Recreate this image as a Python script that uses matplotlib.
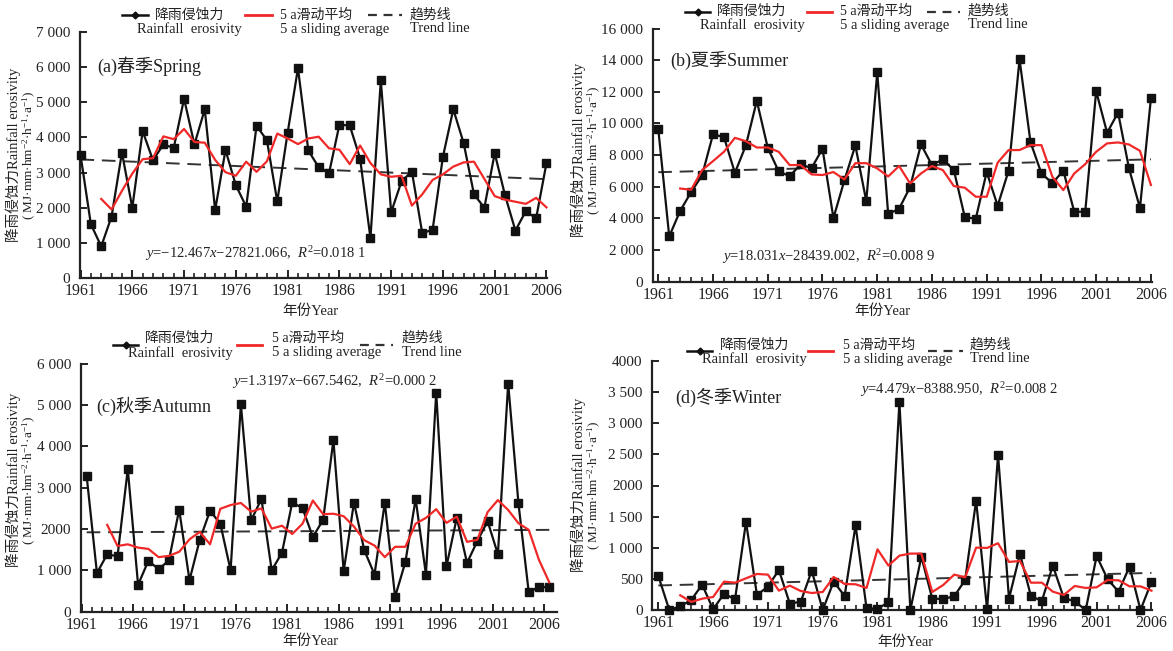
import matplotlib
matplotlib.use('Agg')
import matplotlib.pyplot as plt
from matplotlib.lines import Line2D
from matplotlib.ticker import FixedLocator

plt.rcParams['mathtext.fontset'] = 'custom'
plt.rcParams['mathtext.rm'] = 'Liberation Serif'
plt.rcParams['mathtext.it'] = 'Liberation Serif:italic'

SERIF = ['Liberation Serif', 'Noto Sans CJK SC']

years = list(range(1961, 2007))
ma_years = list(range(1963, 2007))

spring = [3500, 1530, 900, 1750, 3570, 2000, 4180, 3350, 3800, 3700,
          5100, 3800, 4800, 1930, 3640, 2640, 2030, 4330, 3920, 2180,
          4130, 5970, 3630, 3150, 2980, 4360, 4340, 3400, 1130, 5620,
          1870, 2750, 3030, 1280, 1370, 3450, 4800, 3840, 2380, 2000,
          3550, 2350, 1350, 1900, 1700, 3270]
spring_ma = [2250, 1950, 2480, 2970, 3380, 3410, 4030, 3950, 4240, 3870,
             3850, 3360, 3010, 2910, 3310, 3020, 3320, 4110, 3970, 3810,
             3970, 4020, 3690, 3650, 3240, 3770, 3270, 2950, 2880, 2910,
             2060, 2380, 2790, 2950, 3170, 3290, 3310, 2820, 2330, 2230,
             2170, 2110, 2280, 2010]

summer = [9640, 2860, 4480, 5660, 6720, 9310, 9140, 6880, 8610, 11430,
          8460, 6970, 6670, 7410, 7180, 8400, 4020, 6400, 8610, 5090,
          13220, 4270, 4610, 5980, 8670, 7370, 7730, 7050, 4080, 3980,
          6930, 4800, 7010, 14060, 8820, 6840, 6230, 7010, 4420, 4420,
          12040, 9410, 10690, 7160, 4650, 11580]
summer_ma = [5890, 5810, 7050, 7620, 8210, 9090, 8880, 8480, 8480, 8210,
             7370, 7370, 6780, 6740, 6930, 6460, 7490, 7490, 7160, 6650,
             7310, 6210, 6840, 7310, 7050, 6040, 5940, 5370, 5370, 7520,
             8320, 8320, 8630, 8630, 6630, 5790, 6840, 7430, 8210, 8740,
             8800, 8670, 8270, 6110]

autumn = [3280, 935, 1390, 1340, 3450, 650, 1230, 1030, 1240, 2470,
          760, 1740, 2440, 2130, 1000, 5020, 2210, 2730, 1000, 1430,
          2650, 2500, 1810, 2220, 4150, 980, 2640, 1490, 900, 2640,
          360, 1200, 2730, 900, 5300, 1100, 2270, 1180, 1710, 2190,
          1390, 5520, 2620, 470, 600, 590]
autumn_ma = [2100, 1590, 1630, 1550, 1520, 1320, 1350, 1450, 1750, 1930,
             1630, 2490, 2580, 2630, 2420, 2500, 2010, 2080, 1880, 2130,
             2690, 2360, 2370, 2310, 2060, 1730, 1600, 1320, 1570, 1570,
             2130, 2270, 2480, 2150, 2300, 1690, 1740, 2410, 2700, 2460,
             2140, 1980, 1250, 710]

winter = [547, 0, 59, 161, 407, 11, 263, 171, 1415, 241,
          375, 643, 102, 134, 632, 0, 456, 225, 1361, 27,
          21, 123, 3339, 0, 857, 182, 177, 220, 482, 1758,
          11, 2492, 182, 900, 225, 145, 713, 193, 139, 0,
          868, 493, 295, 697, 0, 450]
winter_ma = [236, 129, 182, 209, 456, 439, 509, 579, 568, 311,
             391, 305, 273, 289, 530, 418, 413, 354, 975, 713,
             873, 906, 906, 289, 402, 568, 525, 1002, 997, 1072,
             772, 788, 439, 439, 295, 241, 386, 354, 364, 482,
             477, 380, 380, 311]

trend_slope = [-12.467, 18.031, 1.3197, 4.479]
trend_intercept = [27821.066, -28439.002, -667.5462, -8388.950]

panel_titles = ['(a)春季Spring', '(b)夏季Summer', '(c)秋季Autumn', '(d)冬季Winter']
equations = [r'$y$=−12.467$x$−27821.066,  $R^2$=0.018 1',
             r'$y$=18.031$x$−28439.002,  $R^2$=0.008 9',
             r'$y$=1.3197$x$−667.5462,  $R^2$=0.000 2',
             r'$y$=4.479$x$−8388.950,  $R^2$=0.008 2']
ytick_vals = [[0, 1000, 2000, 3000, 4000, 5000, 6000, 7000],
              [0, 2000, 4000, 6000, 8000, 10000, 12000, 14000, 16000],
              [0, 1000, 2000, 3000, 4000, 5000, 6000],
              [0, 500, 1000, 1500, 2000, 2500, 3000, 3500, 4000]]
ytick_labels = [['0', '1 000', '2 000', '3 000', '4 000', '5 000', '6 000', '7 000'],
                ['0', '2 000', '4 000', '6 000', '8 000', '10 000', '12 000', '14 000', '16 000'],
                ['0', '1 000', '2000', '3 000', '4 000', '5 000', '6 000'],
                ['0', '500', '1 000', '1 500', '2000', '2 500', '3 000', '3 500', '4000']]
xtick_years = [1961, 1966, 1971, 1976, 1981, 1986, 1991, 1996, 2001, 2006]
xtick_labels = [str(y) for y in xtick_years]

legend_cn = ['降雨侵蚀力', '5 a滑动平均', '趋势线']
legend_en = ['Rainfall  erosivity', '5 a sliding average', 'Trend line']
xlabel = '年份Year'
ylabel1 = '降雨侵蚀力Rainfall erosivity'
ylabel2 = r'( MJ·mm·hm$^{-2}$·h$^{-1}$·a$^{-1}$)'

series = [spring, summer, autumn, winter]
mas = [spring_ma, summer_ma, autumn_ma, winter_ma]

W, H = 1173, 651
fig = plt.figure(figsize=(W / 100, H / 100), dpi=100)


def fx(x):
    return x / W


def fy(y):
    return 1 - y / H


TXT = '#222222'
RED = '#f02828'
BLK = '#111111'

layout = [
    dict(box=(80, 547, 32, 278), xlim=(1960.95, 2006.05), toff=0.0,
         title=(97, 66), eq=(145, 254), xl=(310, 311), yl=(13, 29, 155),
         leg_y=(15, 15, 29), leg=[(122, 148, 155, 137), (245, 272, 280, 280), (368, 402, 410, 410)]),
    dict(box=(652.7, 1152, 28.5, 281.7), xlim=(1960.49, 2006.1), toff=0.0,
         title=(670, 60), eq=(722, 257), xl=(882, 311), yl=(578, 594, 150),
         leg_y=(12, 11, 25), leg=[(685, 710, 717, 700), (807, 832, 840, 840), (927, 960, 968, 968)]),
    dict(box=(80.7, 556.7, 363.7, 611.7), xlim=(1960.42, 2006.72), toff=-0.5,
         title=(96, 406), eq=(232, 382), xl=(310, 641), yl=(13, 29, 480),
         leg_y=(345, 338, 353), leg=[(113, 138, 145, 128), (237, 262, 272, 272), (360, 393, 402, 402)]),
    dict(box=(652.3, 1152, 361, 610), xlim=(1960.45, 2006.05), toff=0.0,
         title=(675, 397), eq=(860, 390), xl=(905, 642), yl=(578, 594, 485),
         leg_y=(351, 345, 359), leg=[(687, 712, 720, 702), (808, 833, 843, 843), (928, 963, 970, 970)]),
]

for i in range(4):
    L = layout[i]
    l, r, t, b = L['box']
    ax = fig.add_axes([fx(l), fy(b), (r - l) / W, (b - t) / H])
    ax.set_xlim(*L['xlim'])
    ax.set_ylim(0, ytick_vals[i][-1])
    ax.patch.set_alpha(0)

    ax.plot(years, series[i], color=BLK, lw=1.6, marker='s', ms=5.2,
            markerfacecolor=BLK, markeredgecolor=BLK, zorder=3, clip_on=False)
    ax.plot(ma_years, mas[i], color=RED, lw=1.6, zorder=4, clip_on=False)
    tx = [years[0], years[-1]]
    ty = [trend_slope[i] * x + trend_intercept[i] for x in tx]
    ax.plot(tx, ty, color='#333333', lw=1.4, dashes=(7, 4), zorder=2)

    for s in ['top', 'right']:
        ax.spines[s].set_visible(False)
    for s in ['left', 'bottom']:
        ax.spines[s].set_linewidth(1.6)
        ax.spines[s].set_color(TXT)

    off = L['toff']
    ax.xaxis.set_major_locator(FixedLocator([y + off for y in xtick_years]))
    ax.xaxis.set_minor_locator(FixedLocator([y + off for y in years]))
    ax.set_xticklabels(xtick_labels)
    ax.set_yticks(ytick_vals[i])
    ax.set_yticklabels(ytick_labels[i])
    ax.tick_params(axis='x', which='major', direction='in', length=6, width=1.4,
                   color=TXT, pad=3.5, labelsize=11.5, labelcolor=TXT)
    ax.tick_params(axis='x', which='minor', direction='in', length=3.5, width=1.2, color=TXT)
    ax.tick_params(axis='y', which='major', direction='in', length=5, width=1.4,
                   color=TXT, pad=7, labelsize=11, labelcolor=TXT)
    for lab in ax.get_xticklabels() + ax.get_yticklabels():
        lab.set_family('Liberation Serif')

    fig.text(fx(L['title'][0]), fy(L['title'][1]), panel_titles[i], ha='left', va='center',
             fontsize=13, family=SERIF, color=TXT)
    fig.text(fx(L['eq'][0]), fy(L['eq'][1]), equations[i], ha='left', va='center',
             fontsize=10.5, family='Liberation Serif', color=TXT)
    fig.text(fx(L['xl'][0]), fy(L['xl'][1]), xlabel, ha='center', va='center',
             fontsize=10.5, family=SERIF, color=TXT)
    yx1, yx2, ycen = L['yl']
    fig.text(fx(yx1), fy(ycen), ylabel1, ha='center', va='center', rotation=90,
             fontsize=10.5, family=SERIF, color=TXT)
    fig.text(fx(yx2), fy(ycen), ylabel2, ha='center', va='center', rotation=90,
             fontsize=9.5, family='Liberation Serif', color=TXT)

    hy, cy, ey = L['leg_y']
    styles = [dict(color=BLK, lw=1.8), dict(color=RED, lw=2.0),
              dict(color='#333333', lw=1.6, dashes=(4, 3))]
    for k in range(3):
        x0, x1, xc, xe = L['leg'][k]
        fig.add_artist(Line2D([fx(x0), fx(x1)], [fy(hy), fy(hy)],
                              transform=fig.transFigure, **styles[k]))
        if k == 0:
            fig.add_artist(Line2D([fx((x0 + x1) / 2)], [fy(hy)], marker='D', ms=3.5,
                                  color=BLK, transform=fig.transFigure))
        fig.text(fx(xc), fy(cy), legend_cn[k], ha='left', va='center', fontsize=10,
                 family=SERIF, color=TXT)
        fig.text(fx(xe), fy(ey), legend_en[k], ha='left', va='center', fontsize=10.5,
                 family='Liberation Serif', color=TXT)

fig.savefig('out.png', dpi=100, facecolor='white')
